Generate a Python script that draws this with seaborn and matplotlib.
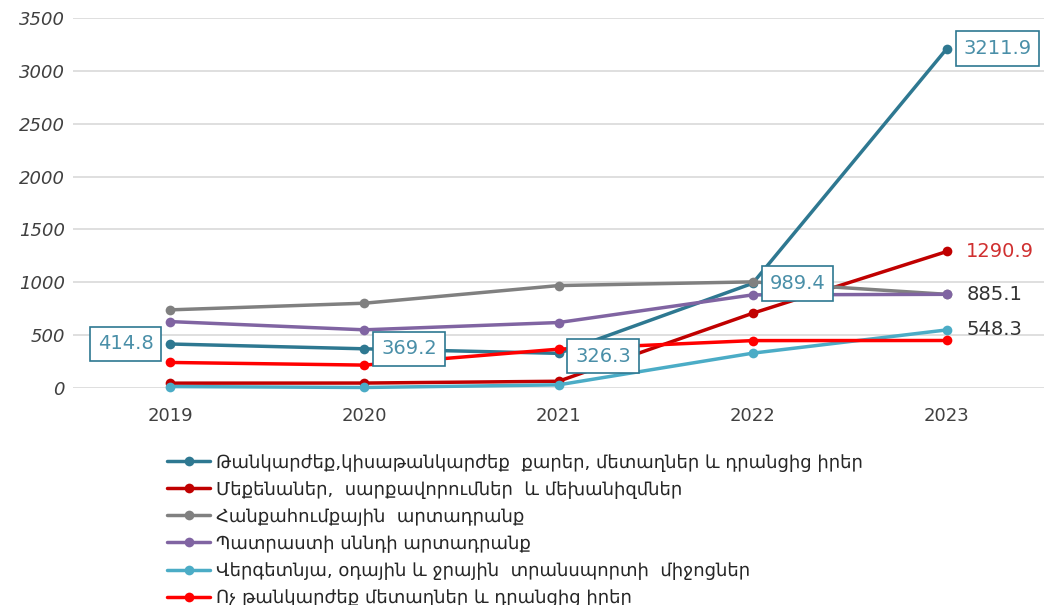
import matplotlib
matplotlib.use("Agg")
import matplotlib.pyplot as plt
import seaborn as sns
import pandas as pd

# Data
years = ["2019", "2020", "2021", "2022", "2023"]
series_names = [
    "Թանկարժեք,կիսաթանկարժեք  քարեր, մետաղներ և դրանցից իրեր",
    "Մեքենաներ,  սարքավորումներ  և մեխանիզմներ",
    "Հանքահումքային  արտադրանք",
    "Պատրաստի սննդի արտադրանք",
    "Վերգետնյա, օդային և ջրային  տրանսպորտի  միջոցներ",
    "Ոչ թանկարժեք մետաղներ և դրանցից իրեր",
]
precious = [414.8, 369.2, 326.3, 989.4, 3211.9]
machinery = [44, 45, 62, 706, 1290.9]
mineral = [738, 801, 968, 1003, 885.1]
food = [627, 549, 618, 880, 885.1]
transport = [12, 3, 28, 328, 548.3]
base_metals = [240, 215, 366, 447, 448]

colors = ["#2E7891", "#C00000", "#808080", "#8064A2", "#4BACC6", "#FF0000"]

all_values = [precious, machinery, mineral, food, transport, base_metals]
df = pd.DataFrame({
    "year": years * len(series_names),
    "value": [v for vals in all_values for v in vals],
    "series": [n for n in series_names for _ in years],
})

sns.set_style("white")
plt.rcParams["font.family"] = ["DejaVu Sans"]

fig = plt.figure(figsize=(10.44, 6.05), dpi=100)
ax = fig.add_axes([0.07, 0.359, 0.93, 0.611])

sns.lineplot(data=df, x="year", y="value", hue="series", hue_order=series_names,
             palette=colors, marker="o", markersize=7, markeredgewidth=0,
             linewidth=2.5, ax=ax, sort=False, clip_on=False)

ax.set_xlim(-0.5, 4.5)
ax.set_ylim(0, 3500)
ax.set_yticks(range(0, 3501, 500))
ax.grid(axis="y", color="#D9D9D9", linewidth=1.2)
ax.set_axisbelow(True)
for spine in ax.spines.values():
    spine.set_visible(False)
ax.set_xlabel("")
ax.set_ylabel("")
ax.tick_params(axis="both", length=0)
plt.setp(ax.get_yticklabels(), style="italic", color="#404040", fontsize=13)
plt.setp(ax.get_xticklabels(), color="#404040", fontsize=13)
ax.tick_params(axis="x", pad=14)
ax.tick_params(axis="y", pad=6)

# Boxed labels for the first series
box = dict(boxstyle="square,pad=0.4", fc="white", ec="#2E7891", lw=1.2)
offsets = [(-12, 0, "right"), (12, 0, "left"), (12, -2, "left"), (12, 0, "left"), (12, 0, "left")]
for i, (dx, dy, ha) in enumerate(offsets):
    ax.annotate(f"{precious[i]:.1f}", (i, precious[i]), xytext=(dx, dy),
                textcoords="offset points", ha=ha, va="center", fontsize=14,
                color="#4A8FA8", bbox=box)

ax.annotate(f"{machinery[4]:.1f}", (4, machinery[4]), xytext=(14, 0),
            textcoords="offset points", ha="left", va="center", fontsize=14, color="#D03030")
ax.annotate(f"{food[4]:.1f}", (4, food[4]), xytext=(14, 0),
            textcoords="offset points", ha="left", va="center", fontsize=14, color="#333333")
ax.annotate(f"{transport[4]:.1f}", (4, transport[4]), xytext=(14, 0),
            textcoords="offset points", ha="left", va="center", fontsize=14, color="#333333")

handles, labels = ax.get_legend_handles_labels()
ax.legend(handles, labels, loc="upper left", bbox_to_anchor=(0.153, 0.262),
          bbox_transform=fig.transFigure, frameon=False, fontsize=13,
          handlelength=2.4, labelspacing=0.5, borderaxespad=0, handletextpad=0.3)

fig.savefig("out.png", dpi=100)
